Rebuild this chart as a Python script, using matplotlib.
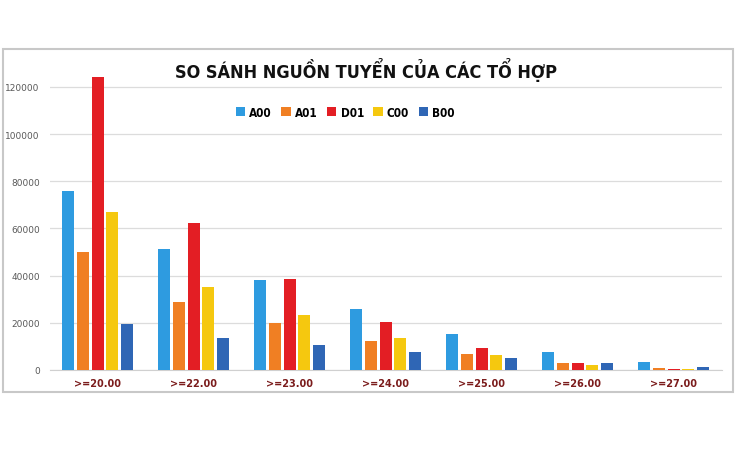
import numpy as np
import matplotlib
matplotlib.use("Agg")
import matplotlib.pyplot as plt
from matplotlib.patches import Rectangle

# Dữ liệu
categories = [">=20.00", ">=22.00", ">=23.00", ">=24.00", ">=25.00", ">=26.00", ">=27.00"]
series_names = ["A00", "A01", "D01", "C00", "B00"]
a00 = [75800, 51200, 38200, 25900, 15400, 7800, 3200]
a01 = [50200, 29000, 19900, 12300, 6600, 3100, 1000]
d01 = [124100, 62200, 38500, 20500, 9200, 2800, 600]
c00 = [66900, 35200, 23200, 13400, 6500, 2300, 400]
b00 = [19400, 13400, 10600, 7800, 5100, 3000, 1400]
yticks = [0, 20000, 40000, 60000, 80000, 100000, 120000]

colors = ["#2e9be0", "#f07f23", "#e31e24", "#f5c80f", "#2f66b5"]

fig = plt.figure(figsize=(7.36, 4.6), dpi=100)
fig.patch.set_facecolor("white")

# khung viền
fig.patches.append(Rectangle((0.004, 0.146), 0.992, 0.745, transform=fig.transFigure,
                             fill=False, edgecolor="#c8c8c8", linewidth=1.5))

ax = fig.add_axes([0.0673, 0.1935, 0.913, 0.687])
x = np.arange(len(categories))
step = 0.152
width = 0.125
for i, (name, vals) in enumerate(zip(series_names, [a00, a01, d01, c00, b00])):
    ax.bar(x + (i - 2) * step, vals, width, color=colors[i], label=name, zorder=3)

ax.set_xlim(-0.5, len(categories) - 0.5)
ax.set_ylim(0, 134000)
ax.set_yticks(yticks)
ax.set_yticklabels([str(t) for t in yticks])
ax.set_xticks(x)
ax.set_xticklabels(categories, fontweight="bold", color="#7b1c1c", fontsize=7)
ax.tick_params(axis="y", length=0, labelsize=6.5, labelcolor="#595959", pad=7)
ax.tick_params(axis="x", length=0, pad=6)
ax.grid(axis="y", color="#dcdcdc", linewidth=0.9, zorder=0)
for s in ["top", "right", "left"]:
    ax.spines[s].set_visible(False)
ax.spines["bottom"].set_color("#d0d0d0")

fig.text(0.497, 0.848, "SO SÁNH NGUỒN TUYỂN CỦA CÁC TỔ HỢP", ha="center", va="center",
         fontsize=13, fontweight="bold", fontstretch="condensed", family="DejaVu Sans",
         color="#111111")

fig.legend(loc="center", bbox_to_anchor=(0.469, 0.754), ncol=5, frameon=False,
           handlelength=0.8, handleheight=0.8, handletextpad=0.35, columnspacing=0.8,
           prop={"weight": "bold", "size": 8.5, "stretch": "condensed"})

fig.savefig("out.png", dpi=100)
